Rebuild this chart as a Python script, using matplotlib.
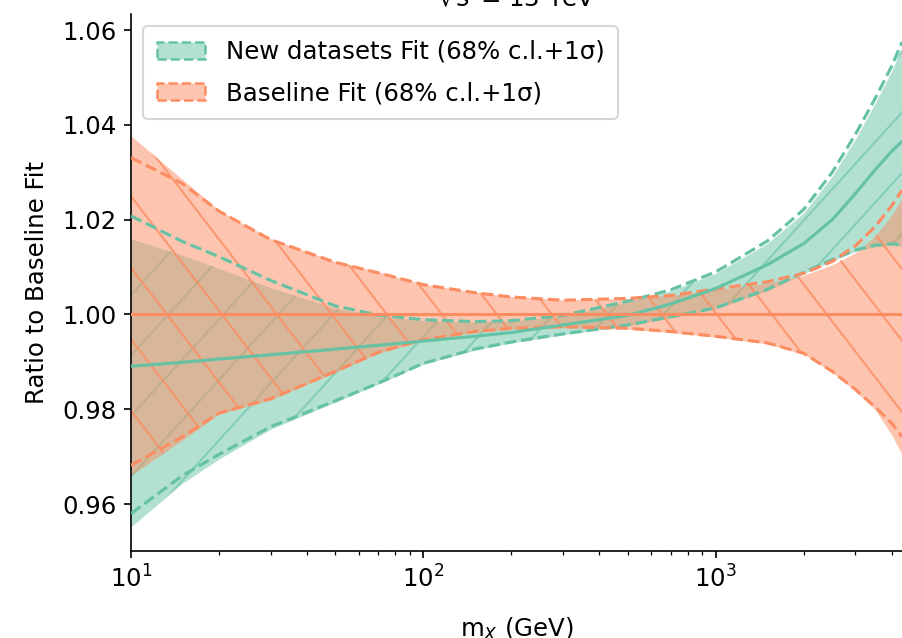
import numpy as np
import matplotlib
matplotlib.use("Agg")
import matplotlib.pyplot as plt
from matplotlib.patches import Patch
from matplotlib.collections import LineCollection

# ---------------- data ----------------
mass = [10, 15, 20, 30, 50, 70, 100, 150, 200, 300, 500, 700, 1000,
        1500, 2000, 2500, 3000, 3500, 4000, 4330]

new_central = [0.9891, 0.9899, 0.9906, 0.9915, 0.9927, 0.9935, 0.9944, 0.9954,
               0.9962, 0.9978, 0.9998, 1.0022, 1.0055, 1.0105, 1.0150, 1.0200,
               1.0255, 1.0305, 1.0345, 1.0365]
new_band_hi = [1.0160, 1.0125, 1.0097, 1.0057, 1.0013, 0.9997, 0.9987, 0.9984,
               0.9986, 0.9997, 1.0026, 1.0050, 1.0087, 1.0150, 1.0215, 1.0292,
               1.0370, 1.0445, 1.0515, 1.0565]
new_band_lo = [0.9552, 0.9644, 0.9695, 0.9758, 0.9815, 0.9853, 0.9895, 0.9925,
               0.9940, 0.9957, 0.9976, 0.9993, 1.0012, 1.0050, 1.0086, 1.0113,
               1.0133, 1.0143, 1.0146, 1.0144]
new_sig_hi = [1.0208, 1.0154, 1.0122, 1.0072, 1.0018, 0.9999, 0.9989, 0.9985,
              0.9987, 0.9998, 1.0028, 1.0052, 1.0090, 1.0155, 1.0222, 1.0300,
              1.0380, 1.0455, 1.0525, 1.0575]
new_sig_lo = [0.9580, 0.9660, 0.9705, 0.9763, 0.9818, 0.9855, 0.9897, 0.9927,
              0.9942, 0.9959, 0.9978, 0.9995, 1.0014, 1.0053, 1.0089, 1.0116,
              1.0136, 1.0146, 1.0149, 1.0147]

base_central = [1.0, 1.0, 1.0, 1.0, 1.0, 1.0, 1.0, 1.0, 1.0, 1.0,
                1.0, 1.0, 1.0, 1.0, 1.0, 1.0, 1.0, 1.0, 1.0, 1.0]
base_band_hi = [1.0377, 1.0285, 1.0220, 1.0160, 1.0112, 1.0090, 1.0064, 1.0047,
                1.0038, 1.0031, 1.0034, 1.0040, 1.0052, 1.0066, 1.0083, 1.0105,
                1.0130, 1.0165, 1.0210, 1.0245]
base_band_lo = [0.9661, 0.9735, 0.9790, 0.9820, 0.9878, 0.9918, 0.9945, 0.9962,
                0.9969, 0.9972, 0.9969, 0.9962, 0.9952, 0.9938, 0.9916, 0.9878,
                0.9838, 0.9800, 0.9745, 0.9705]
base_sig_hi = [1.0331, 1.0276, 1.0218, 1.0158, 1.0110, 1.0088, 1.0063, 1.0046,
               1.0037, 1.0030, 1.0034, 1.0040, 1.0054, 1.0069, 1.0087, 1.0112,
               1.0145, 1.0185, 1.0230, 1.0262]
base_sig_lo = [0.9682, 0.9742, 0.9792, 0.9822, 0.9880, 0.9920, 0.9947, 0.9964,
               0.9971, 0.9974, 0.9971, 0.9964, 0.9954, 0.9940, 0.9918, 0.9880,
               0.9842, 0.9805, 0.9770, 0.9742]

label_new = "New datasets Fit (68% c.l.+1σ)"
label_base = "Baseline Fit (68% c.l.+1σ)"
title_text = r"$\sqrt{s}$ = 13 TeV"
xlabel_text = r"m$_X$ (GeV)"
ylabel_text = "Ratio to Baseline Fit"

c_new = "#66c2a5"
c_base = "#fc8d62"

# ---------------- figure ----------------
DPI = 150
W, H = 902, 638
plt.rcParams["font.size"] = 11.7
fig = plt.figure(figsize=(W / DPI, H / DPI), dpi=DPI)
ax_l, ax_b, ax_w, ax_h = 131, 87, 771, 537  # pixels
ax = fig.add_axes([ax_l / W, ax_b / H, ax_w / W, ax_h / H])

x = np.array(mass, dtype=float)


def add_hatch(ax, coll, color, slope, spacing, lw=1.0, alpha=0.7):
    """Draw parallel lines (pixel slope/spacing) clipped to a fill."""
    segs = []
    cs = np.arange(-abs(slope) * ax_w - 2 * ax_h, ax_h + abs(slope) * ax_w + 2 * ax_h,
                   spacing * abs(slope))
    for c in cs:
        x0, x1 = -50, ax_w + 50
        y0, y1 = slope * x0 + c, slope * x1 + c
        segs.append([(x0 / ax_w, y0 / ax_h), (x1 / ax_w, y1 / ax_h)])
    lc = LineCollection(segs, colors=color, linewidths=lw, alpha=alpha,
                        transform=ax.transAxes, zorder=coll.get_zorder() + 0.1)
    ax.add_collection(lc)
    lc.set_clip_path(coll.get_paths()[0], ax.transData)


f_new = ax.fill_between(x, new_band_lo, new_band_hi, color=c_new, alpha=0.5,
                        lw=0, zorder=1)
f_base = ax.fill_between(x, base_band_lo, base_band_hi, color=c_base, alpha=0.5,
                         lw=0, zorder=1.2)
add_hatch(ax, f_new, c_new, 1.1, 55, lw=1.0, alpha=0.6)
add_hatch(ax, f_base, c_base, -1.3, 55, lw=1.0, alpha=0.8)

ax.plot(x, new_sig_hi, ls="--", color=c_new, lw=1.5, zorder=3)
ax.plot(x, new_sig_lo, ls="--", color=c_new, lw=1.5, zorder=3)
ax.plot(x, base_sig_hi, ls="--", color=c_base, lw=1.5, zorder=3)
ax.plot(x, base_sig_lo, ls="--", color=c_base, lw=1.5, zorder=3)
ax.plot(x, new_central, ls="-", color=c_new, lw=1.5, zorder=4)
ax.plot(x, base_central, ls="-", color=c_base, lw=1.5, zorder=4)

ax.set_xscale("log")
ax.set_xlim(10, 4330)
ax.set_ylim(0.9501, 1.0634)
ax.set_yticks([0.96, 0.98, 1.00, 1.02, 1.04, 1.06])
ax.spines["top"].set_visible(False)
ax.spines["right"].set_visible(False)
ax.set_xlabel(xlabel_text, labelpad=11)
ax.set_ylabel(ylabel_text, labelpad=6.5)

fig.text((ax_l + ax_w / 2) / W, 1 - 7 / H, title_text, ha="center",
         va="baseline", fontsize=11.7)

handles = [
    Patch(facecolor=matplotlib.colors.to_rgba(c_new, 0.5), edgecolor=c_new,
          linestyle="--", linewidth=1.2),
    Patch(facecolor=matplotlib.colors.to_rgba(c_base, 0.5), edgecolor=c_base,
          linestyle="--", linewidth=1.2),
]
ax.legend(handles, [label_new, label_base], loc="upper left",
          handletextpad=0.85, labelspacing=0.72, borderpad=0.55)

fig.savefig("out.png", dpi=DPI)
